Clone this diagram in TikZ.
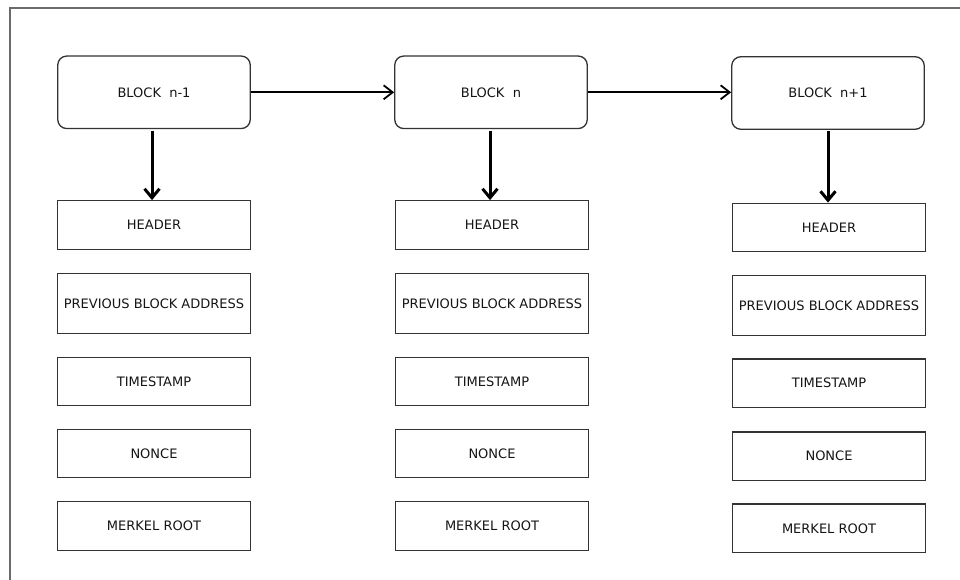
\documentclass[tikz,border=0pt]{standalone}
\usepackage{fontspec}
\setmainfont{DejaVu Sans}
\usetikzlibrary{arrows.meta}
\definecolor{ink}{HTML}{141414}
\definecolor{edge}{HTML}{333333}
\definecolor{frame}{HTML}{6A6A6A}

\begin{document}
\begin{tikzpicture}[x=1pt,y=-1pt,
  every node/.style={text=ink,font=\fontsize{13}{15}\selectfont,inner sep=0pt},
  blockbox/.style={draw=edge,line width=1.3pt,rounded corners=9pt,minimum width=192.5pt,minimum height=72.5pt},
  fieldbox/.style={draw=edge,line width=1.3pt,minimum width=193pt,minimum height=48.5pt},
  tallbox/.style={fieldbox,minimum height=60pt},
  chain/.style={->,line width=1.8pt,>={Straight Barb[length=9pt,width=14pt]}},
  down/.style={->,line width=3pt,>={Straight Barb[length=9pt,width=15pt]}}]
\useasboundingbox (0,0) rectangle (960,580);
\draw[frame,line width=1.3pt] (10,580) |- (960,8);
% blocks
\node[blockbox] (bprev) at (154,92.3) {BLOCK\ \ n-1};
\node[blockbox] (bcur) at (491,92.3) {BLOCK\ \ n};
\node[blockbox] (bnext) at (828,93) {BLOCK\ \ n+1};
% fields of block n-1
\node[fieldbox] (hprev) at (154,225) {HEADER};
\node[tallbox] (aprev) at (154,303.3) {PREVIOUS BLOCK ADDRESS};
\node[fieldbox] (tprev) at (154,381.5) {TIMESTAMP};
\node[fieldbox] (nprev) at (154,453.5) {NONCE};
\node[fieldbox] (mprev) at (154,526) {MERKEL ROOT};
% fields of block n
\node[fieldbox] (hcur) at (492,225) {HEADER};
\node[tallbox] (acur) at (492,303.3) {PREVIOUS BLOCK ADDRESS};
\node[fieldbox] (tcur) at (492,381.5) {TIMESTAMP};
\node[fieldbox] (ncur) at (492,453.5) {NONCE};
\node[fieldbox] (mcur) at (492,526) {MERKEL ROOT};
% fields of block n+1
\node[fieldbox] (hnext) at (829,227.5) {HEADER};
\node[tallbox] (anext) at (829,305.7) {PREVIOUS BLOCK ADDRESS};
\node[fieldbox] (tnext) at (829,383.2) {TIMESTAMP};
\node[fieldbox] (nnext) at (829,456.2) {NONCE};
\node[fieldbox] (mnext) at (829,528.3) {MERKEL ROOT};
% links
\draw[chain] (bprev) -- (bcur);
\draw[chain] (bcur) -- (bcur -| bnext.west);
\draw[down] ([xshift=-2pt,yshift=-1.5pt]bprev.south) -- ([xshift=-2pt]hprev.north);
\draw[down] ([xshift=-1pt,yshift=-1.5pt]bcur.south) -- ([xshift=-2pt]hcur.north);
\draw[down] ([yshift=-1.5pt]bnext.south) -- ([xshift=-1pt]hnext.north);
\end{tikzpicture}
\end{document}
